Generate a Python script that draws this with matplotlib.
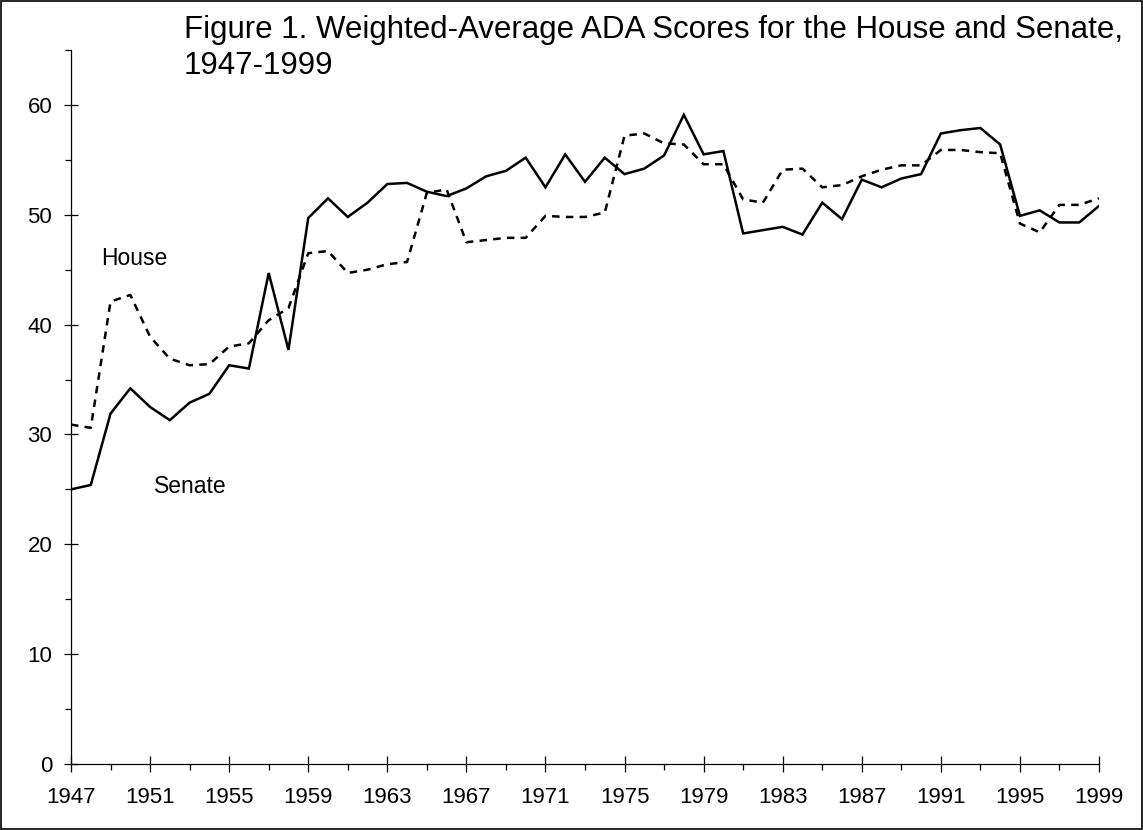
import numpy as np
import matplotlib
matplotlib.use("Agg")
import matplotlib.pyplot as plt
from matplotlib.patches import Rectangle
from matplotlib.ticker import MultipleLocator

plt.rcParams['font.family'] = ['Liberation Sans', 'DejaVu Sans']

years = list(range(1947, 2000))

# Senate weighted-average ADA scores (solid line)
senate = [25.0, 25.4, 31.9, 34.2, 32.5, 31.3, 32.9, 33.7, 36.3, 36.0,
          44.7, 37.7, 49.7, 51.5, 49.8, 51.1, 52.8, 52.9, 52.1, 51.7,
          52.4, 53.5, 54.0, 55.2, 52.5, 55.5, 53.0, 55.2, 53.7, 54.2,
          55.4, 59.1, 55.5, 55.8, 48.3, 48.6, 48.9, 48.2, 51.1, 49.6,
          53.2, 52.5, 53.3, 53.7, 57.4, 57.7, 57.9, 56.4, 49.9, 50.4,
          49.3, 49.3, 50.8]

# House weighted-average ADA scores (dashed line)
house = [30.9, 30.6, 42.1, 42.7, 38.9, 36.9, 36.3, 36.4, 38.0, 38.3,
         40.4, 41.5, 46.5, 46.7, 44.7, 45.0, 45.5, 45.7, 52.0, 52.3,
         47.5, 47.7, 47.9, 47.9, 49.9, 49.8, 49.8, 50.2, 57.2, 57.4,
         56.5, 56.4, 54.6, 54.6, 51.4, 51.1, 54.1, 54.2, 52.5, 52.7,
         53.5, 54.1, 54.5, 54.5, 55.9, 55.9, 55.7, 55.6, 49.2, 48.4,
         50.9, 50.9, 51.5]

fig = plt.figure(figsize=(11.43, 8.30), dpi=100)
ax = fig.add_axes([71 / 1143, 1 - 764 / 830, (1099 - 71) / 1143, (764 - 50) / 830])

ax.plot(years, senate, color='black', lw=1.8, solid_joinstyle='miter')
ax.plot(years, house, color='black', lw=1.8, linestyle=(0, (3.0, 2.5)))

ax.set_xlim(1947, 1999)
ax.set_ylim(0, 65)

ax.set_xticks(range(1947, 2000, 4))
ax.set_xticks(range(1949, 2000, 4), minor=True)
ax.yaxis.set_major_locator(MultipleLocator(10))
ax.yaxis.set_minor_locator(MultipleLocator(5))

ax.spines['top'].set_visible(False)
ax.spines['right'].set_visible(False)
for s in ('left', 'bottom'):
    ax.spines[s].set_linewidth(0.9)

ax.tick_params(axis='x', which='major', direction='inout', length=11.5, width=0.9,
               labelsize=16, pad=11)
ax.tick_params(axis='x', which='minor', direction='out', length=4.3, width=0.9)
ax.tick_params(axis='y', which='major', direction='inout', length=10, width=0.9,
               labelsize=16, pad=8.5)
ax.tick_params(axis='y', which='minor', direction='out', length=4.3, width=0.9)

ax.text(1948.5, 46.0, 'House', fontsize=16.5, ha='left', va='center')
ax.text(1951.2, 25.3, 'Senate', fontsize=16.5, ha='left', va='center')

fig.text(184 / 1143, 1 - 15 / 830,
         'Figure 1. Weighted-Average ADA Scores for the House and Senate,\n1947-1999',
         fontsize=22.5, ha='left', va='top', linespacing=1.25)

fig.add_artist(Rectangle((0.0005, 0.0007), 0.999, 0.9986, transform=fig.transFigure,
                         fill=False, edgecolor='black', lw=1.2))

fig.savefig('out.png', dpi=100)
